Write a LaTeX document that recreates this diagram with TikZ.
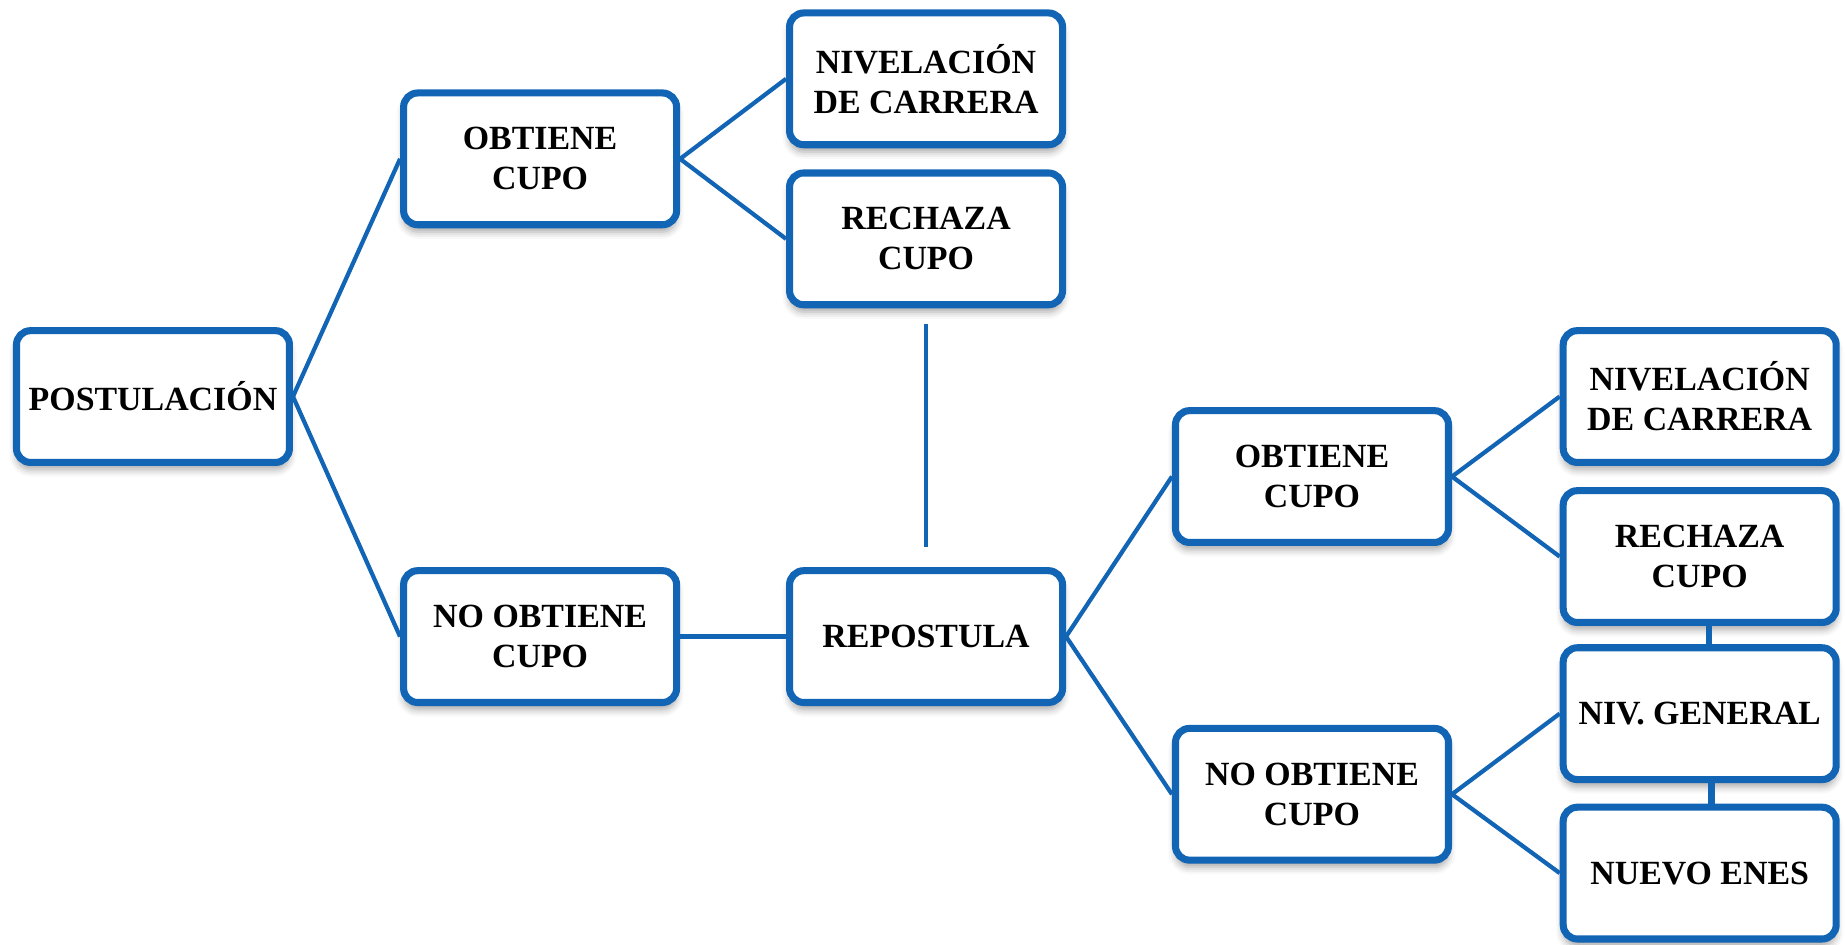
\documentclass[tikz,border=0pt]{standalone}
\usepackage{fontspec}
\setmainfont{Liberation Serif}
\usetikzlibrary{shadows.blur,calc}
\definecolor{boxblue}{RGB}{18,100,180}
\begin{document}
\begin{tikzpicture}[x=0.5pt,y=-0.5pt,
  box/.style={draw=boxblue, line width=3pt, rounded corners=6pt, fill=white,
    minimum width=116pt, minimum height=56pt, align=center,
    font=\fontsize{14.4}{17}\selectfont\bfseries, text=black, inner sep=0pt,
    blur shadow={shadow xshift=0pt, shadow yshift=-3pt, shadow blur radius=3pt, shadow opacity=35}},
  link/.style={draw=boxblue, line width=1.8pt}]
\useasboundingbox (0,0) rectangle (1568,803);
\node[box] (post) at (130,337) {POSTULACIÓN};
\node[box] (ob1) at (459,135) {OBTIENE\\CUPO};
\node[box] (niv1) at (787,67) {NIVELACIÓN\\DE CARRERA};
\node[box] (rech1) at (787,203) {RECHAZA\\CUPO};
\node[box] (nob1) at (459,541) {NO OBTIENE\\CUPO};
\node[box] (repo) at (787,541) {REPOSTULA};
\node[box] (ob2) at (1115,405) {OBTIENE\\CUPO};
\node[box] (niv2) at (1444.5,337) {NIVELACIÓN\\DE CARRERA};
\node[box] (rech2) at (1444.5,473) {RECHAZA\\CUPO};
\node[box] (nivg) at (1444.5,606.5) {NIV. GENERAL};
\node[box] (nob2) at (1115,675) {NO OBTIENE\\CUPO};
\node[box] (enes) at (1444.5,742) {NUEVO ENES};
\draw[link] (post.east) -- (ob1.west);
\draw[link] (post.east) -- (nob1.west);
\draw[link] (ob1.east) -- (niv1.west);
\draw[link] (ob1.east) -- (rech1.west);
\draw[link] (nob1.east) -- (repo.west);
\draw[link] (repo.east) -- (ob2.west);
\draw[link] (repo.east) -- (nob2.west);
\draw[link] (ob2.east) -- (niv2.west);
\draw[link] (ob2.east) -- (rech2.west);
\draw[link] (nob2.east) -- (nivg.west);
\draw[link] (nob2.east) -- (enes.west);
\coordinate (v1a) at ($(rech1.south)+(0,13)$);
\coordinate (v1b) at ($(repo.north)+(0,-17)$);
\draw[link] (v1a) -- (v1b);
\coordinate (v2a) at ($(rech2.south)+(8,-6)$);
\coordinate (v2b) at ($(nivg.north)+(8,0)$);
\draw[link, line width=2.6pt] (v2a) -- (v2b);
\coordinate (v3a) at ($(nivg.south)+(10,-3)$);
\coordinate (v3b) at ($(enes.north)+(10,0)$);
\draw[link, line width=2.6pt] (v3a) -- (v3b);
\end{tikzpicture}
\end{document}
